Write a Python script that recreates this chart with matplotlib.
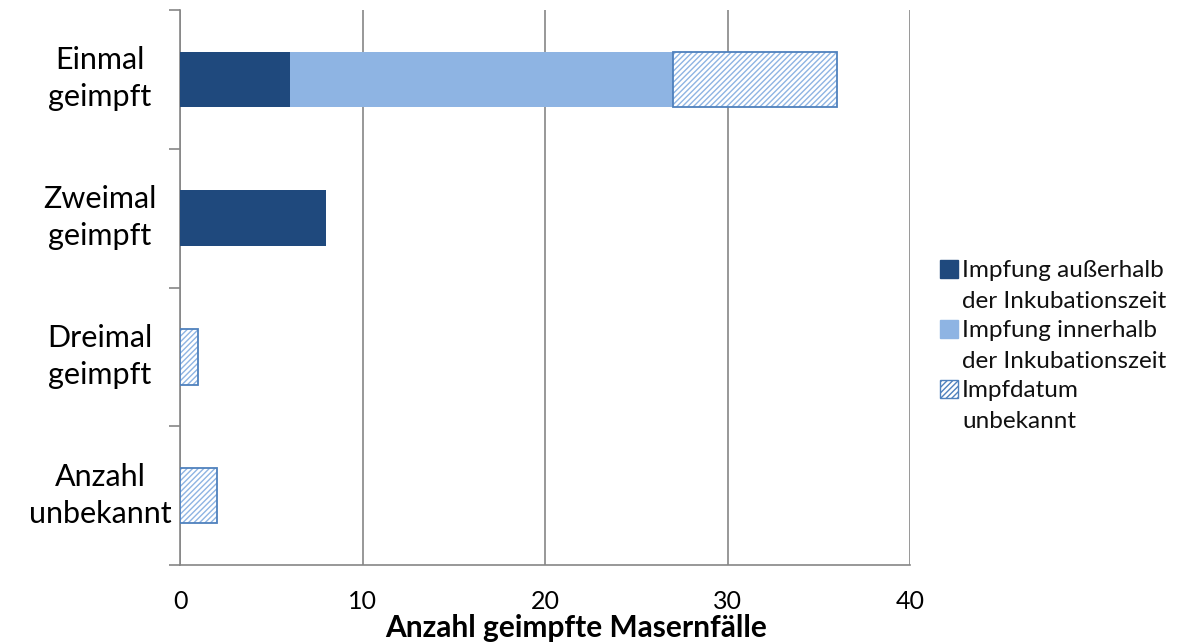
import matplotlib
matplotlib.use("Agg")
import matplotlib.pyplot as plt
from matplotlib.patches import Rectangle
from matplotlib.transforms import ScaledTranslation, blended_transform_factory
import numpy as np

plt.rcParams['font.family'] = ['Lato', 'DejaVu Sans']
plt.rcParams['hatch.linewidth'] = 1.0

categories = ["Einmal\ngeimpft", "Zweimal\ngeimpft", "Dreimal\ngeimpft", "Anzahl\nunbekannt"]
series_names = ["Impfung außerhalb\nder Inkubationszeit",
                "Impfung innerhalb\nder Inkubationszeit",
                "Impfdatum\nunbekannt"]
outside = [6, 8, 0, 0]
inside = [21, 0, 0, 0]
unknown = [9, 0, 1, 2]
x_ticks = [0, 10, 20, 30, 40]
x_label = "Anzahl geimpfte Masernfälle"

dark = "#1F497D"
light = "#8EB4E3"
edge = "#4F81BD"
grid = "#868686"

W, H = 1180, 643
DPI = 100
fig = plt.figure(figsize=(W / DPI, H / DPI), dpi=DPI)
ax = fig.add_axes([180 / W, 1 - 565 / H, 730 / W, 555 / H])

y = np.arange(len(categories))
h = 0.4
left = np.zeros(len(categories))
ax.barh(y, outside, h, left=left, color=dark, zorder=3)
left += outside
ax.barh(y, inside, h, left=left, color=light, zorder=3)
left += inside
unk = np.array(unknown, dtype=float)
has = unk > 0
ax.barh(y[has], unk[has], h, left=left[has], color="white", edgecolor=light,
        hatch="//////", linewidth=0, zorder=3)
ax.barh(y[has], unk[has], h, left=left[has], color="none", edgecolor=edge,
        linewidth=1.3, zorder=4)

ax.set_xlim(0, 40)
ax.set_ylim(len(categories) - 0.5, -0.5)
ax.set_xticks(x_ticks)
ax.set_xticklabels([str(t) for t in x_ticks], fontsize=18)
ax.tick_params(axis='x', length=0, pad=18)
ax.xaxis.grid(True, color=grid, linewidth=1.2, zorder=0)

# category boundaries carry the ticks; names sit between them
ax.set_yticks(np.arange(len(categories) + 1) - 0.5)
ax.set_yticklabels([])
ax.tick_params(axis='y', length=8, color=grid, width=1.2)

base = blended_transform_factory(ax.transAxes, ax.transData)
x_name = -(180 - 100) / 730
for yi, name in zip(y, categories):
    first, second = name.split("\n")
    for txt, dy in ((first, 10), (second, -27)):
        tr = base + ScaledTranslation(0, dy / DPI, fig.dpi_scale_trans)
        ax.text(x_name, yi, txt, transform=tr, fontsize=22, ha='center',
                va='baseline', clip_on=False)

for s in ['top', 'right']:
    ax.spines[s].set_visible(False)
for s in ['left', 'bottom']:
    ax.spines[s].set_color(grid)
    ax.spines[s].set_linewidth(1.2)

fig.text(576 / W, 1 - 637 / H, x_label, fontsize=21.5,
         fontweight='bold', ha='center', va='baseline')

# legend built from squares and wrapped labels
styles = [dict(facecolor=dark, edgecolor=dark),
          dict(facecolor=light, edgecolor=light),
          dict(facecolor="white", edgecolor=edge, hatch="//////")]
for i, (name, st) in enumerate(zip(series_names, styles)):
    top = 260 + i * 60
    fig.add_artist(Rectangle((940 / W, 1 - (top + 18) / H), 18 / W, 18 / H,
                             transform=fig.transFigure, linewidth=1, **st))
    for j, line in enumerate(name.split("\n")):
        fig.text(962 / W, 1 - (277 + i * 60 + j * 31) / H, line,
                 fontsize=17.5, va='baseline', ha='left', color="#111111")

fig.savefig("out.png", dpi=DPI)
